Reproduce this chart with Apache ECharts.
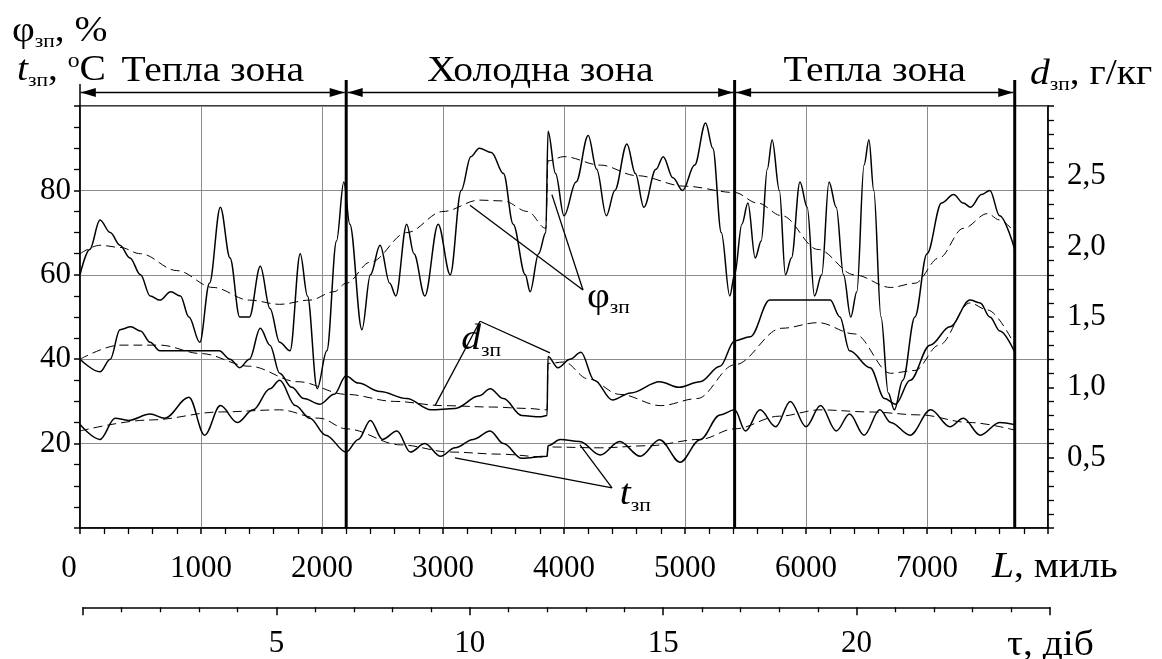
<!DOCTYPE html>
<html>
<head>
<meta charset="utf-8">
<script src="https://cdn.jsdelivr.net/npm/echarts@6/dist/echarts.min.js"></script>
<style>
html,body{margin:0;padding:0;background:#fff;}
#chart{width:1162px;height:659px;}
</style>
</head>
<body>
<div id="chart"></div>
<script>
const FONT = '"Liberation Serif","Times New Roman",serif';

// ---- axes ----
const distanceRange = [0, 8000];      // L, miles
const dayRange = [0, 25];             // tau, days
const leftRange = [0, 100];           // phi %, t °C
const rightRange = [0, 3];            // d, g/kg

// ---- zones along the route (miles) ----
const zoneBounds = [0, 2200, 5410, 7725];
const zoneNames = ['Тепла зона', 'Холодна зона', 'Тепла зона'];

// ---- relative humidity of outside air, % (measured / trend) ----
const phiMeasured = [
  [0,60],[80,66],[165,73],[250,70],[330,67],[413,64],[500,60],[580,55],[660,54],[750,56],
  [830,55],[900,50],[990,44],[1070,58],[1160,76],[1240,64],[1320,50],[1400,50],[1490,62],
  [1570,52],[1650,44],[1736,42],[1820,65],[1880,55],[1960,33],[2040,42],[2120,68],[2180,82],
  [2230,72],[2330,47],[2400,60],[2480,67],[2560,58],[2610,55],[2700,72],[2760,65],[2850,55],
  [2960,72],[3060,60],[3150,80],[3230,88],[3300,90],[3400,89],[3500,84],[3580,72],[3680,60],
  [3720,56],[3790,65],[3850,70],[3868,94],[3930,84],[4000,74],[4100,82],[4200,93],[4270,85],
  [4350,74],[4420,80],[4520,91],[4590,84],[4660,76],[4760,85],[4820,88],[4900,83],[4980,80],
  [5080,86],[5170,96],[5230,90],[5300,70],[5370,55],[5410,60],[5470,72],[5520,77],[5580,64],
  [5630,68],[5680,85],[5720,92],[5780,80],[5830,60],[5880,64],[5950,82],[6010,76],[6070,55],
  [6130,60],[6190,82],[6250,76],[6310,60],[6370,50],[6420,56],[6480,86],[6520,92],[6560,80],
  [6620,50],[6680,32],[6730,28],[6800,35],[6900,50],[7000,65],[7120,77],[7220,79],[7300,77],
  [7360,76],[7450,79],[7520,80],[7600,74],[7725,66]
];
const phiTrend = [
  [0,65],[165,67],[330,66.5],[500,65],[800,61],[1100,57],[1400,54],[1650,53],[1900,54],
  [2100,56],[2200,58],[2400,63],[2700,70],[3000,75],[3300,77.7],[3500,77.5],[3700,75],
  [3850,71],[3868,87],[4000,88],[4300,86],[4600,83.5],[5000,81],[5410,79.5],[5600,77],
  [5800,74],[6100,66],[6400,60],[6700,57],[6900,58],[7100,64],[7300,71],[7500,74.5],
  [7600,73],[7725,70]
];

// ---- moisture content, g/kg (measured / trend) ----
const dMeasured = [
  [0,1.2],[165,1.11],[250,1.2],[330,1.41],[420,1.43],[500,1.4],[580,1.32],[660,1.26],
  [750,1.26],[1150,1.26],[1240,1.2],[1320,1.14],[1400,1.2],[1490,1.42],[1570,1.3],
  [1650,1.1],[1750,1.0],[1850,0.92],[1983,0.88],[2100,0.95],[2198,1.08],[2300,1.03],
  [2480,0.97],[2700,0.92],[2900,0.84],[3100,0.85],[3300,0.94],[3390,0.99],[3500,0.92],
  [3650,0.8],[3800,0.79],[3860,0.8],[3868,1.22],[3950,1.14],[4050,1.2],[4140,1.25],
  [4250,1.05],[4400,0.91],[4550,0.96],[4790,1.04],[4950,1.0],[5124,1.04],[5290,1.15],
  [5410,1.33],[5540,1.36],[5700,1.62],[6200,1.62],[6280,1.5],[6360,1.26],[6530,1.14],
  [6650,0.92],[6740,0.88],[6860,1.05],[7025,1.3],[7190,1.43],[7355,1.62],[7440,1.6],
  [7520,1.5],[7603,1.4],[7725,1.25]
];
const dTrend = [
  [0,1.2],[330,1.3],[660,1.3],[1000,1.24],[1400,1.15],[1800,1.04],[2200,0.95],[2600,0.9],
  [3000,0.87],[3400,0.86],[3700,0.85],[3860,0.84],[3868,1.17],[4000,1.18],[4200,1.06],
  [4460,0.95],[4800,0.87],[5100,0.92],[5410,1.16],[5800,1.42],[6100,1.46],[6400,1.38],
  [6700,1.1],[6900,1.12],[7100,1.3],[7355,1.6],[7500,1.55],[7725,1.3]
];

// ---- outside air temperature, °C (measured / trend) ----
const tMeasured = [
  [0,24.5],[165,21],[290,26],[400,25.5],[580,27],[700,26],[900,31],[1030,22],[1160,29],
  [1300,25],[1430,28],[1570,33],[1650,35],[1780,29],[1900,26],[2030,22],[2200,18],[2300,21],
  [2400,25.5],[2500,21],[2620,23],[2730,18],[2850,20],[2980,17],[3100,19],[3250,21],[3390,23],
  [3500,20],[3650,16.5],[3860,17],[3868,19.5],[3970,21],[4130,20.5],[4300,17.3],[4460,20.5],
  [4630,17],[4790,20.9],[4960,15.6],[5124,20.9],[5290,26.8],[5410,28],[5500,23],[5620,28],
  [5750,24],[5870,30],[6000,24],[6120,29],[6250,23],[6360,27],[6480,22],[6610,28],[6700,25],
  [6860,22],[7030,28],[7190,24],[7300,26],[7440,22],[7600,25],[7725,24.5]
];
const tTrend = [
  [0,23],[580,25.6],[1160,27.5],[1650,28],[1983,26],[2200,23.5],[2650,19.7],[3060,18],
  [3470,17.5],[3860,16.8],[3868,19.2],[4300,19],[4700,19.5],[5124,21],[5410,23.5],
  [5780,26.5],[6116,28],[6530,27.5],[6940,26.8],[7350,25],[7725,23.2]
];

// ---- callout leaders, [miles, % on left scale] ----
const phiLeaders = [[[3223,76.5],[4157,56.4]], [[3900,79],[4157,56.4]]];
const dLeaders   = [[[2934,29],[3306,49]], [[3306,49],[3884,41.5]]];
const tLeaders   = [[[3099,16.6],[4397,9.5]], [[4132,19.7],[4397,9.5]]];
const calloutPos = { phi:[4190,54.5], d:[3150,44.5], t:[4460,7.8] };

const chart = echarts.init(document.getElementById('chart'), null, {renderer:'canvas'});

const tickFont = {fontFamily: FONT, fontSize: 31, color: '#000'};
const blackLine = {color: '#000', width: 1.5};

function curve(data, dashed, yIdx) {
  return {
    type: 'line', data: data, xAxisIndex: 0, yAxisIndex: yIdx,
    showSymbol: false, smooth: 0.35, smoothMonotone: 'x', silent: true, z: 5,
    lineStyle: dashed ? {color:'#000', width: 1, type: [9, 5]} : {color:'#000', width: 1.5}
  };
}
function leaderSeries(seg) {
  return {
    type: 'line', data: seg, xAxisIndex: 0, yAxisIndex: 0, showSymbol: false,
    silent: true, z: 6, lineStyle: {color:'#000', width: 1.3}
  };
}

const series = [
  curve(phiMeasured, false, 0), curve(phiTrend, true, 0),
  curve(dMeasured, false, 1), curve(dTrend, true, 1),
  curve(tMeasured, false, 0), curve(tTrend, true, 0)
];
[...phiLeaders, ...dLeaders, ...tLeaders].forEach(s => series.push(leaderSeries(s)));

chart.setOption({
  animation: false,
  backgroundColor: '#fff',
  grid: [
    {left: 80, right: 114, top: 106, bottom: 131, show: true, borderColor: '#000', borderWidth: 1.5},
    {left: 83, right: 112, top: 607, height: 1}
  ],
  xAxis: [
    {
      type: 'value', gridIndex: 0, min: distanceRange[0], max: distanceRange[1], interval: 1000,
      axisLine: {lineStyle: blackLine},
      axisTick: {show: true, inside: false, length: 6, lineStyle: blackLine},
      minorTick: {show: true, splitNumber: 5, length: 6, lineStyle: {color:'#000', width: 1.3}},
      axisLabel: Object.assign({
        margin: 25,
        // the origin label sits left of its tick, clear of the vertical axis
        formatter: v => (v === 0 ? '{z|0}' : (v < distanceRange[1] ? String(v) : '')),
        rich: {z: {fontFamily: FONT, fontSize: 31, color: '#000', padding: [0, 22, 0, 0]}}
      }, tickFont),
      splitLine: {show: true, lineStyle: {color: '#8c8c8c', width: 1}}
    },
    {
      type: 'value', gridIndex: 1, min: dayRange[0], max: dayRange[1], interval: 5,
      axisLine: {lineStyle: blackLine},
      axisTick: {show: true, inside: false, length: 8, lineStyle: blackLine},
      minorTick: {show: true, splitNumber: 5, length: 5, lineStyle: {color:'#000', width: 1.3}},
      axisLabel: Object.assign({margin: 21, formatter: v => (v > 0 && v < dayRange[1] ? String(v) : '')}, tickFont),
      splitLine: {show: false}
    }
  ],
  yAxis: [
    {
      type: 'value', gridIndex: 0, min: leftRange[0], max: leftRange[1], interval: 20, position: 'left',
      axisLine: {show: true, lineStyle: blackLine},
      axisTick: {show: true, inside: false, length: 6, lineStyle: blackLine},
      minorTick: {show: true, splitNumber: 4, length: 6, lineStyle: {color:'#000', width: 1.3}},
      axisLabel: Object.assign({margin: 9, formatter: v => (v > 0 && v < leftRange[1] ? String(v) : '')}, tickFont),
      splitLine: {show: true, lineStyle: {color: '#8c8c8c', width: 1}}
    },
    {
      type: 'value', gridIndex: 0, min: rightRange[0], max: rightRange[1], interval: 0.5, position: 'right',
      axisLine: {show: true, lineStyle: blackLine},
      axisTick: {show: true, inside: false, length: 6, lineStyle: blackLine},
      minorTick: {show: true, splitNumber: 5, length: 6, lineStyle: {color:'#000', width: 1.3}},
      axisLabel: Object.assign({margin: 19,
        formatter: v => (v > 0 && v < rightRange[1] ? v.toFixed(1).replace('.', ',') : '')}, tickFont),
      splitLine: {show: false}
    },
    {type: 'value', gridIndex: 1, show: false, min: 0, max: 1}
  ],
  series: series
});

// ---- overlay: zone markers, axis titles, callout labels ----
const px = (x, y) => chart.convertToPixel({xAxisIndex: 0, yAxisIndex: 0}, [x, y]);
const yTop = px(0, leftRange[1])[1];
const yBottom = px(0, 0)[1];
const arrowY = yTop - 13.5;
const lineTop = yTop - 22;

const rich = {
  r: {fontFamily: FONT, fontSize: 35, lineHeight: 40, color: '#000'},
  i: {fontFamily: FONT, fontSize: 35, lineHeight: 40, fontStyle: 'italic', color: '#000'},
  s: {fontFamily: FONT, fontSize: 19, lineHeight: 19, verticalAlign: 'bottom', color: '#000'},
  p: {fontFamily: FONT, fontSize: 21, lineHeight: 21, verticalAlign: 'top', color: '#000'}
};
function label(x, y, text, align) {
  return {type: 'text', x: x, y: y, scaleX: 1.13, silent: true, z: 20,
    style: {text: text, rich: rich, align: align || 'left', verticalAlign: 'middle', fill: '#000'}};
}
function arrowHead(x, y, dir) {
  // dir = -1 points left, +1 points right
  return {type: 'polygon', silent: true, z: 20,
    shape: {points: [[x, y], [x - dir * 15, y - 4.5], [x - dir * 15, y + 4.5]]},
    style: {fill: '#000'}};
}

const elements = [];
// left axis extension above the plot
elements.push({type: 'line', silent: true, z: 20,
  shape: {x1: px(0,0)[0], y1: yTop, x2: px(0,0)[0], y2: lineTop},
  style: {stroke: '#000', lineWidth: 1.5}});
zoneBounds.forEach((b, k) => {
  if (k === 0) return;
  const x = px(b, 0)[0];
  elements.push({type: 'line', silent: true, z: 20,
    shape: {x1: x, y1: yBottom, x2: x, y2: lineTop - 4},
    style: {stroke: '#000', lineWidth: 3}});
});
zoneNames.forEach((name, k) => {
  const xa = px(zoneBounds[k], 0)[0] + (k === 0 ? 0.8 : 1.5);
  const xb = px(zoneBounds[k + 1], 0)[0] - 1.5;
  elements.push({type: 'line', silent: true, z: 20,
    shape: {x1: xa, y1: arrowY, x2: xb, y2: arrowY}, style: {stroke: '#000', lineWidth: 1.3}});
  elements.push(arrowHead(xa, arrowY, -1));
  elements.push(arrowHead(xb, arrowY, 1));
  elements.push(label((xa + xb) / 2, arrowY - 21, '{r|' + name + '}', 'center'));
});

// axis titles
elements.push(label(12, 32, '{r|φ}{s|зп}{r|, %}'));
elements.push(label(17, 71, '{i|t}{s|зп}{r|, }{p|o}{r|C}'));
elements.push(label(1030, 75, '{i|d}{s|зп}{r|, г/кг}'));
elements.push(label(992, 568, '{i|L}{r|, миль}'));
elements.push(label(1007, 646, '{r|τ, діб}'));

// callout labels
let c = px(calloutPos.phi[0], calloutPos.phi[1]);
elements.push(label(c[0], c[1], '{r|φ}{s|зп}'));
c = px(calloutPos.d[0], calloutPos.d[1]);
elements.push(label(c[0], c[1], '{i|d}{s|зп}'));
c = px(calloutPos.t[0], calloutPos.t[1]);
elements.push(label(c[0], c[1], '{i|t}{s|зп}'));

chart.setOption({graphic: {elements: elements}});
</script>
</body>
</html>
